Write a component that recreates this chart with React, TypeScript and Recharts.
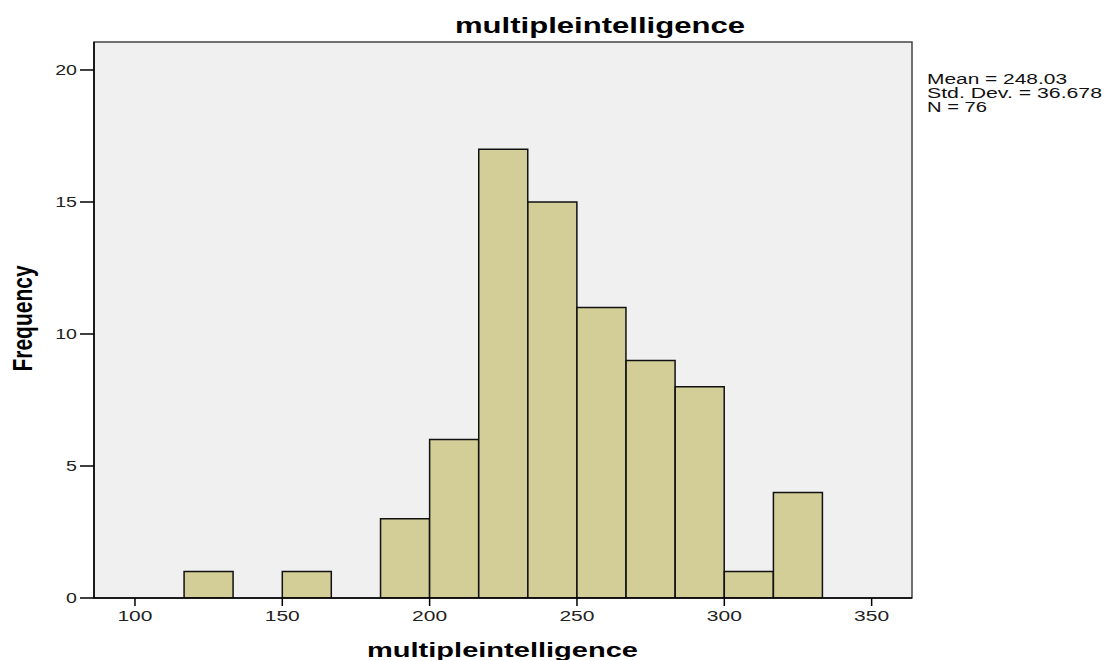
import { Bar, BarChart, CartesianGrid, ReferenceArea, XAxis, YAxis } from 'recharts'

// histogram bins (centres of the 16.67-wide bins) and their counts
const binCenters = [125, 141.67, 158.33, 175, 191.67, 208.33, 225, 241.67, 258.33, 275, 291.67, 308.33, 325]
const frequencies = [1, 0, 1, 0, 3, 6, 17, 15, 11, 9, 8, 1, 4]
const xTicks = [100, 150, 200, 250, 300, 350]
const yTicks = [0, 5, 10, 15, 20]
const statLines = ['Mean = 248.03', 'Std. Dev. = 36.678', 'N = 76']
const titleText = 'multipleintelligence'
const xLabel = 'multipleintelligence'
const yLabel = 'Frequency'

const xDomain = [86.1, 363.7]
const yDomain = [0, 21.06]

const FONT = 'Arial, "Liberation Sans", sans-serif'
const STRETCH = 1.4

function XTick({ x, y, payload }: any) {
  const s = String(payload.value)
  return (
    <text x={x} y={y} dy="0.71em" textAnchor="middle" fontSize={15} fill="#222" fontFamily={FONT}
      textLength={s.length * 0.556 * 15 * STRETCH} lengthAdjust="spacingAndGlyphs">{s}</text>
  )
}

function YTick({ x, y, payload }: any) {
  const s = String(payload.value)
  return (
    <text x={x} y={y} dy="0.36em" textAnchor="end" fontSize={15} fill="#222" fontFamily={FONT}
      textLength={s.length * 0.556 * 14 * STRETCH} lengthAdjust="spacingAndGlyphs">{s}</text>
  )
}

export default function App() {
  const data = binCenters.map((bin, i) => ({ bin, count: frequencies[i] }))

  return (
    <div style={{ position: 'absolute', left: 0, top: 0, width: 1105, height: 660 }}>
      <BarChart data={data} width={1105} height={660} barCategoryGap={0}
        margin={{ top: 42, right: 193, bottom: 0, left: 0 }}>
        <CartesianGrid fill="#F0F0F0" horizontal={false} vertical={false} />
        <ReferenceArea x1={xDomain[0]} x2={xDomain[1]} y1={yDomain[0]} y2={yDomain[1]}
          fill="none" stroke="#444" strokeWidth={1.5} />
        <XAxis type="number" dataKey="bin" domain={xDomain} ticks={xTicks} allowDataOverflow
          height={62} tickSize={8} tickMargin={4}
          axisLine={{ stroke: '#000', strokeWidth: 1.5 }} tickLine={{ stroke: '#000', strokeWidth: 1.5 }}
          tick={XTick} />
        <YAxis type="number" domain={yDomain} ticks={yTicks} allowDataOverflow
          width={94} tickSize={14} tickMargin={3}
          axisLine={{ stroke: '#000', strokeWidth: 1.5 }} tickLine={{ stroke: '#000', strokeWidth: 1.5 }}
          tick={YTick} />
        <Bar dataKey="count" fill="#D3CE98" stroke="#111" strokeWidth={1.5} isAnimationActive={false} />
      </BarChart>
      <svg width={1105} height={660} style={{ position: 'absolute', left: 0, top: 0, pointerEvents: 'none' }}>
        <text x={455} y={33} fontSize={22} fontWeight="bold" fontFamily={FONT} fill="#000"
          textLength={290} lengthAdjust="spacingAndGlyphs">{titleText}</text>
        <text x={367} y={657} fontSize={20} fontWeight="bold" fontFamily={FONT} fill="#000"
          textLength={271} lengthAdjust="spacingAndGlyphs">{xLabel}</text>
        <text transform={`translate(32, 318.5) rotate(-90) scale(1, 1.3)`} textAnchor="middle"
          fontSize={21} fontWeight="bold" fontFamily={FONT} fill="#000">{yLabel}</text>
        {statLines.map((line, i) => (
          <text key={line} x={927} y={84 + i * 14} fontSize={14} fontFamily={FONT} fill="#111"
            textLength={[140, 175, 60][i]} lengthAdjust="spacingAndGlyphs">{line}</text>
        ))}
      </svg>
    </div>
  )
}
